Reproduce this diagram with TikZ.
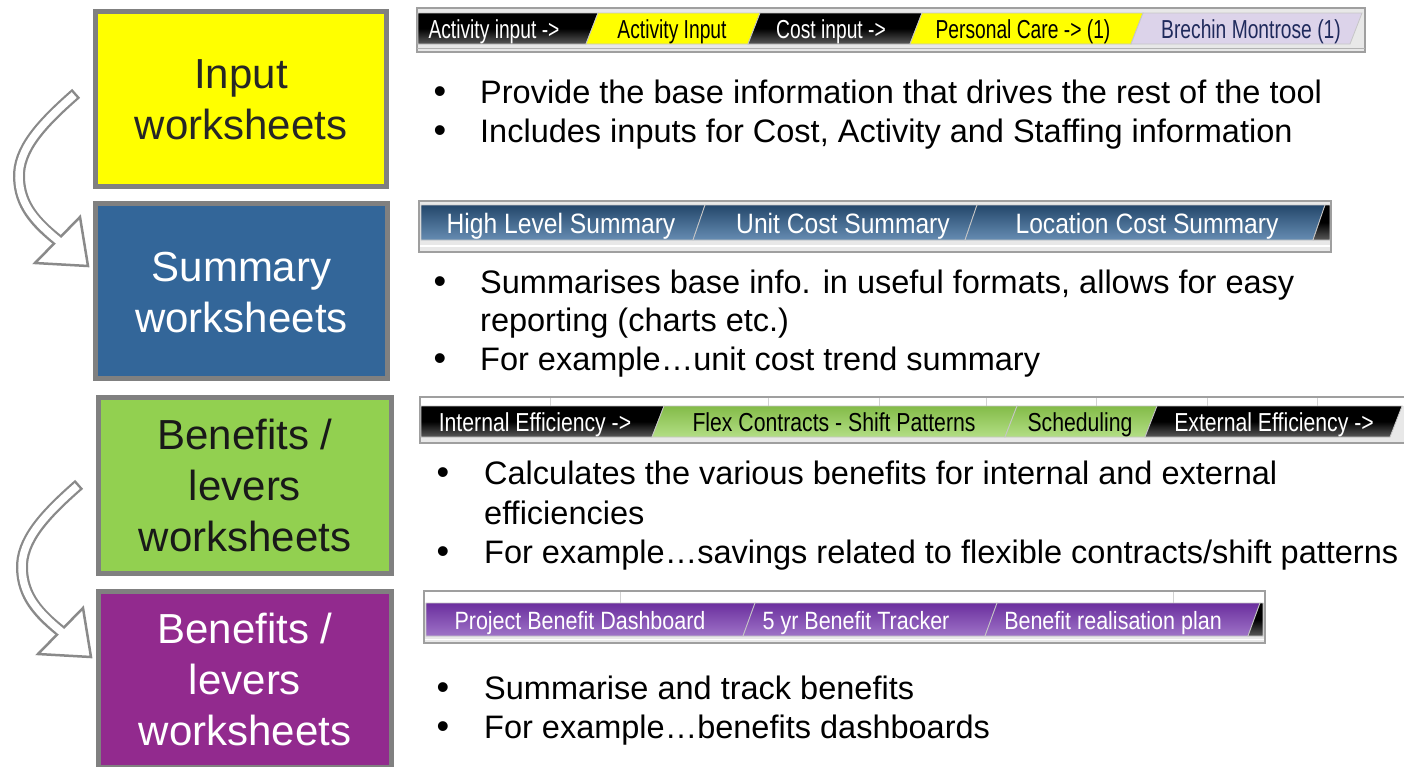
\documentclass[tikz,border=0pt]{standalone}
\usepackage{fontspec}
\setmainfont{Liberation Sans}
\usetikzlibrary{calc}
\definecolor{wsyellow}{HTML}{FFFF00}
\definecolor{wsblue}{HTML}{336699}
\definecolor{wsgreen}{HTML}{92D050}
\definecolor{wspurple}{HTML}{922A8E}
\definecolor{wsborder}{HTML}{808080}
\definecolor{arrowgray}{HTML}{8A8A8A}
\definecolor{tabnavy}{HTML}{1F2A5C}
\definecolor{lav}{HTML}{DCD3EA}
\definecolor{darktext}{HTML}{262626}
\definecolor{purtop}{HTML}{6B2F9E}
\definecolor{purbot}{HTML}{9E73C7}
\tikzset{
  wsbox/.style={draw=wsborder, line width=5pt, inner sep=0pt, outer sep=0pt},
  boxtxt/.style={align=center, anchor=base, inner sep=0pt, font=\fontsize{42}{51}\selectfont},
  bullettxt/.style={anchor=base west, inner sep=0pt, font=\fontsize{32.5}{39}\selectfont, text=black},
  bulletdot/.style={anchor=center, inner sep=0pt, font=\fontsize{36}{36}\selectfont, yshift=-3pt},
  barframe/.style={fill=gray!18, draw=gray!75, line width=1.2pt},
  tabblack/.style={top color=black, bottom color=gray!70!black, middle color=black, draw=gray!45, line width=0.8pt},
  tabyellow/.style={fill=wsyellow, draw=gray!45, line width=0.8pt},
  tablav/.style={fill=lav, draw=gray!45, line width=0.8pt},
  tabblue/.style={top color=wsblue!70!black, bottom color=wsblue!75!white, draw=gray!45, line width=0.8pt},
  tabgreen/.style={top color=wsgreen!90!black, bottom color=wsgreen!70!white, draw=gray!45, line width=0.8pt},
  tabpurple/.style={top color=purtop, bottom color=purbot, draw=gray!45, line width=0.8pt},
  tabtxt/.style={anchor=base, inner sep=0pt},
  shaftout/.style={draw=arrowgray, line width=12pt},
  shaftin/.style={draw=white, line width=7.5pt},
  headtri/.style={fill=white, draw=arrowgray, line width=2.5pt, line join=miter},
}
% #1 name, #2 x0, #3 x1, #4 top, #5 bottom, #6 fill style, #7 text colour, #8 text centre x, #9 text
\newcommand\wstab[9]{%
  \path[#6] ({#2},{#5}) -- ({#2+12},{#4}) -- ({#3+12},{#4}) -- ({#3},{#5}) -- cycle;
  \node[tabtxt, text=#7, font=\tabfont] (#1) at ({#8},{#5-\tabdrop}) {\scalebox{\tabsx}[1]{#9}};
}
\begin{document}
\begin{tikzpicture}[x=1pt,y=-1pt]
\useasboundingbox (0,0) rectangle (1404,766);

% ---- left boxes ----
\node[wsbox, fill=wsyellow, minimum width=291pt, minimum height=175pt] (input) at (241,99) {};
\node[wsbox, fill=wsblue, minimum width=292pt, minimum height=175pt] (summary) at (241.5,291) {};
\node[wsbox, fill=wsgreen, minimum width=293pt, minimum height=176pt] (levers) at (245,485.5) {};
\node[wsbox, fill=wspurple, minimum width=293pt, minimum height=176pt] (track) at (245,679.5) {};

\node[boxtxt, text=darktext] (inputT) at (241,139) {Input\\worksheets};
\node[boxtxt, text=white] (summaryT) at (241.5,332) {Summary\\worksheets};
\node[boxtxt, text=black!90] (leversT) at (245,551) {Benefits /\\levers\\worksheets};
\node[boxtxt, text=white] (trackT) at (245,745) {Benefits /\\levers\\worksheets};

% ---- curved arrows ----
\foreach \dx/\dy/\nm in {0/0/arrA, 3/391/arrB}{
  \begin{scope}[shift={(\dx,\dy)}]
    \coordinate (\nm-tail) at (72,97);
    \coordinate (\nm-mid) at (19,178);
    \coordinate (\nm-base) at (57.5,240);
    \path[headtri] (35,263) -- (80,217) -- (88,266) -- cycle;
    \draw[shaftout, shorten <=-5.5pt] (\nm-tail) .. controls (40,125) and (18,150) .. (\nm-mid)
         .. controls (20,205) and (35,222) .. (\nm-base);
    \draw[shaftin, shorten <=-3pt, shorten >=-6pt] (\nm-tail) .. controls (40,125) and (18,150) .. (\nm-mid)
         .. controls (20,205) and (35,222) .. (\nm-base);
  \end{scope}
}

% ---- tab bar 1 ----
\draw[barframe] (417,8) rectangle (1365,52);
\draw[gray!60, line width=0.8pt] (417,48) -- (1365,48);
\def\tabfont{\fontsize{26}{26}\selectfont}\def\tabsx{0.74}\def\tabdrop{6}
\path[tabblack] (418,44) -- (418,13) -- (598,13) -- (586,44) -- cycle;
\node[tabtxt, text=white, font=\tabfont] (t11) at (494,38) {\scalebox{\tabsx}[1]{Activity input ->}};
\wstab{t12}{586}{748}{13}{44}{tabyellow}{black}{672}{Activity Input}
\wstab{t13}{748}{910}{13}{44}{tabblack}{white}{831}{Cost input ->}
\wstab{t14}{910}{1131}{13}{44}{tabyellow}{black}{1023}{Personal Care -> (1)}
\wstab{t15}{1131}{1350}{13}{44}{tablav}{tabnavy}{1251}{Brechin Montrose (1)}

% ---- tab bar 2 ----
\draw[barframe] (419,201) rectangle (1331,252);
\draw[white, line width=1.5pt] (420,246) -- (1330,246);
\def\tabfont{\fontsize{28}{28}\selectfont}\def\tabsx{0.88}\def\tabdrop{6.5}
\path[tabblue] (421,240) -- (421,205) -- (705,205) -- (693,240) -- cycle;
\node[tabtxt, text=white, font=\tabfont] (t21) at (561,233.5) {\scalebox{\tabsx}[1]{High Level Summary}};
\wstab{t22}{693}{965}{205}{240}{tabblue}{white}{843}{Unit Cost Summary}
\wstab{t23}{965}{1313}{205}{240}{tabblue}{white}{1147}{Location Cost Summary}
\path[tabblack] (1313,240) -- (1325,205) -- (1330,205) -- (1330,240) -- cycle;

% ---- tab bar 3 ----
\draw[barframe] (420,397) rectangle (1410,443);
\fill[white] (421,398) rectangle (1410,405.5);
\foreach \gx in {550,768,879,986,1096,1207,1317}{\draw[gray!35, line width=0.8pt] (\gx,398) -- (\gx,405.5);}
\def\tabfont{\fontsize{26}{26}\selectfont}\def\tabsx{0.816}\def\tabdrop{5.5}
\path[tabblack] (421,437) -- (421,406) -- (664,406) -- (652,437) -- cycle;
\node[tabtxt, text=white, font=\tabfont] (t31) at (535,431.5) {\scalebox{\tabsx}[1]{Internal Efficiency ->}};
\wstab{t32}{652}{1005}{406}{437}{tabgreen}{black}{834}{Flex Contracts - Shift Patterns}
\wstab{t33}{1005}{1145}{406}{437}{tabgreen}{black}{1080}{Scheduling}
\wstab{t34}{1145}{1390}{406}{437}{tabblack}{white}{1274}{External Efficiency ->}

% ---- tab bar 4 ----
\draw[barframe] (424,591) rectangle (1265,643);
\fill[white] (425,592) rectangle (1264,602.5);
\foreach \gx in {620,1173}{\draw[gray!35, line width=0.8pt] (\gx,592) -- (\gx,602.5);}
\draw[white, line width=1.5pt] (425,639.5) -- (1264,639.5);
\def\tabfont{\fontsize{25}{25}\selectfont}\def\tabsx{0.86}\def\tabdrop{7}
\path[tabpurple] (426,636) -- (426,603) -- (755,603) -- (743,636) -- cycle;
\node[tabtxt, text=white, font=\tabfont] (t41) at (580,629) {\scalebox{\tabsx}[1]{Project Benefit Dashboard}};
\wstab{t42}{743}{985}{603}{636}{tabpurple}{white}{856}{5 yr Benefit Tracker}
\wstab{t43}{985}{1248}{603}{636}{tabpurple}{white}{1113}{Benefit realisation plan}
\path[tabblack] (1248,636) -- (1260,603) -- (1263,603) -- (1263,636) -- cycle;

% ---- bullet texts ----
\node[bulletdot] (b11) at (440,92) {•};
\node[bullettxt] (l11) at (480,103) {Provide the base information that drives the rest of the tool};
\node[bulletdot] (b12) at (440,131) {•};
\node[bullettxt] (l12) at (480,142) {Includes inputs for Cost, Activity and Staffing information};

\node[bulletdot] (b21) at (440,282) {•};
\node[bullettxt] (l21) at (480,293) {Summarises base info. in useful formats, allows for easy};
\node[bullettxt] (l22) at (480,331) {reporting (charts etc.)};
\node[bulletdot] (b22) at (440,359) {•};
\node[bullettxt] (l23) at (480,370) {For example…unit cost trend summary};

\node[bulletdot] (b31) at (443,473) {•};
\node[bullettxt] (l31) at (484,484) {Calculates the various benefits for internal and external};
\node[bullettxt] (l32) at (484,524) {efficiencies};
\node[bulletdot] (b32) at (443,552) {•};
\node[bullettxt] (l33) at (484,563) {For example…savings related to flexible contracts/shift patterns};

\node[bulletdot] (b41) at (443,688) {•};
\node[bullettxt] (l41) at (484,699) {Summarise and track benefits};
\node[bulletdot] (b42) at (443,727) {•};
\node[bullettxt] (l42) at (484,738) {For example…benefits dashboards};
\end{tikzpicture}
\end{document}
